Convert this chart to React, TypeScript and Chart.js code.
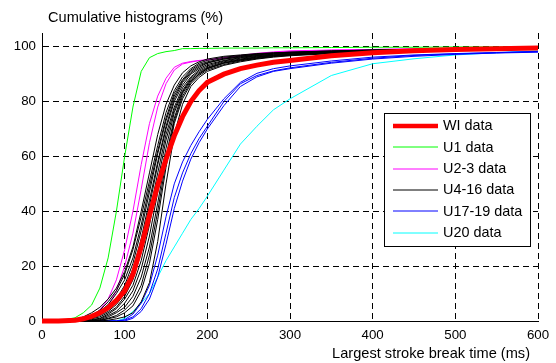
import React, { useEffect, useRef } from 'react';
import { Chart, registerables } from 'chart.js';

Chart.register(...registerables);

const X_VALUES = [0, 20, 40, 50, 60, 70, 80, 90, 100, 110, 120, 130, 140, 150, 160, 170, 180, 190, 200, 220, 240, 260, 280, 300, 350, 400, 450, 500, 550, 600];

const WI = [0, 0, 0.3, 0.8, 1.7, 3, 4.8, 7.5, 11, 17, 27, 38.5, 49.5, 59, 67.5, 74.5, 80, 84, 87, 90, 92, 93.3, 94.3, 95, 96.7, 97.8, 98.5, 99, 99.3, 99.5];

const U1 = [0, 0, 1.2, 3, 5.8, 12, 23, 40, 60, 78, 91, 96, 97.5, 98.2, 98.6, 99.3, 99.3, 99.4, 99.4, 99.5, 99.5, 99.5, 99.6, 99.6, 99.7, 99.8, 99.8, 99.9, 99.9, 100];

const U2_3_A = [0, 0, 0, 0.3, 1.5, 4, 8, 15, 26, 40, 57, 72, 82, 88.5, 92.5, 94, 94.6, 95, 95.2, 96, 96.8, 97.6, 98.1, 98.5, 98.8, 99, 99.2, 99.3, 99.4, 99.5];
const U2_3_B = [0, 0, 0, 0.2, 1, 2.5, 5.5, 11, 20, 32, 48, 65, 78, 86.5, 91.5, 93.7, 94.4, 94.9, 95.2, 95.8, 96.5, 97.3, 97.9, 98.3, 98.7, 99, 99.2, 99.3, 99.4, 99.5];

const U4 = [0, 0, 0.5, 1.5, 3, 5, 8, 12, 18, 27, 40, 54, 68, 79, 86, 90.5, 93, 94.5, 95.5, 96.5, 97, 97.5, 97.8, 98, 98.5, 98.8, 99, 99.2, 99.4, 99.5];
const U5 = [0, 0, 0.3, 1, 2, 4, 7, 11, 17, 26, 38, 51, 64, 76, 84, 89, 92, 94, 95, 96.2, 96.8, 97.3, 97.7, 98, 98.4, 98.8, 99, 99.2, 99.3, 99.5];
const U6 = [0, 0, 0.2, 0.8, 1.8, 3.5, 6, 10, 15, 23, 35, 49, 62, 74, 83, 88, 91.5, 93.5, 94.5, 95.8, 96.6, 97.2, 97.6, 97.9, 98.3, 98.7, 99, 99.1, 99.3, 99.5];
const U7 = [0, 0, 0, 0.5, 1.5, 3, 5, 8, 13, 21, 33, 47, 61, 73, 82, 87.5, 91, 93, 94.2, 95.5, 96.4, 97, 97.5, 97.8, 98.3, 98.7, 98.9, 99.1, 99.3, 99.4];
const U8 = [0, 0, 0, 0.5, 1, 2.5, 4.5, 7, 12, 19, 30, 44, 58, 71, 81, 87, 90.5, 92.5, 94, 95.5, 96.2, 96.8, 97.3, 97.7, 98.2, 98.6, 98.9, 99.1, 99.3, 99.5];
const U9 = [0, 0, 0, 0.3, 1, 2, 3.5, 6, 10, 17, 28, 42, 57, 70, 80, 86, 90, 92, 93.5, 95, 96, 96.7, 97.2, 97.6, 98.2, 98.6, 98.9, 99.1, 99.2, 99.4];
const U10 = [0, 0, 0, 0.2, 0.8, 1.5, 3, 5, 9, 15, 25, 39, 54, 68, 78, 85, 89, 91.5, 93, 94.8, 95.8, 96.5, 97, 97.4, 98, 98.5, 98.8, 99, 99.2, 99.4];
const U11 = [0, 0, 0, 0.2, 0.5, 1, 2.5, 4.5, 8, 13, 22, 35, 51, 66, 77, 84, 88.5, 91, 92.5, 94.5, 95.5, 96.3, 96.9, 97.3, 98, 98.5, 98.8, 99, 99.2, 99.4];
const U12 = [0, 0, 0, 0, 0.3, 0.8, 2, 3.5, 6.5, 11, 19, 31, 47, 63, 76, 83.5, 88, 90.5, 92.2, 94.2, 95.3, 96.2, 96.8, 97.2, 97.9, 98.4, 98.7, 99, 99.2, 99.4];
const U13 = [0, 0, 0, 0, 0.2, 0.5, 1.5, 3, 5, 9, 16, 27, 43, 60, 74, 83, 87.5, 90, 92, 94, 95.2, 96, 96.7, 97.1, 97.8, 98.3, 98.7, 99, 99.2, 99.4];
const U14 = [0, 0, 0, 0, 0, 0.3, 1, 2, 4, 7, 13, 24, 40, 58, 73, 82, 87, 90, 92, 94, 95, 95.8, 96.5, 97, 97.7, 98.3, 98.7, 99, 99.2, 99.4];
const U15 = [0, 0, 0, 0, 0, 0.2, 0.8, 1.5, 3, 5.5, 11, 21, 37, 56, 72, 81, 86.5, 89.5, 91.5, 93.5, 94.8, 95.7, 96.4, 96.9, 97.6, 98.2, 98.6, 98.9, 99.1, 99.3];
const U16 = [0, 0, 0, 0, 0, 0, 0.3, 0.8, 1.5, 3, 7, 14, 29, 50, 68, 79, 85.5, 88.8, 91, 93.2, 94.5, 95.5, 96.2, 96.7, 97.5, 98.1, 98.5, 98.8, 99, 99.2];

const U17 = [0, 0, 0, 0, 0, 0, 0, 0, 0.5, 2.5, 6.5, 13, 24, 38, 50, 58, 64, 69, 73.5, 81, 87, 90.3, 92, 93, 94.8, 96.2, 97, 97.5, 97.9, 98.3];
const U18 = [0, 0, 0, 0, 0, 0, 0, 0, 0.3, 1.5, 4.5, 10, 19, 32, 45, 54, 61, 66.5, 71, 80, 86.5, 89.5, 91.2, 92.3, 94.3, 95.8, 96.8, 97.4, 97.8, 98.2];
const U19 = [0, 0, 0, 0, 0, 0, 0, 0, 0, 1, 3.5, 8, 16, 28, 41, 51, 59, 65, 70, 78.5, 85.5, 89, 91, 92, 94, 95.5, 96.5, 97.2, 97.7, 98];

const U20 = [0, 0, 0, 0, 0, 0, 0, 0, 1, 3.5, 6.5, 10, 16, 22, 27, 32, 37, 41, 45.5, 55, 64.5, 71, 77, 81, 89.5, 93.8, 95.6, 97, 97.8, 98.5];

const X_TICKS = [0, 100, 200, 300, 400, 500, 600];
const Y_TICKS = [0, 20, 40, 60, 80, 100];

const Y_TITLE = 'Cumulative histograms (%)';
const X_TITLE = 'Largest stroke break time (ms)';
const LEGEND_LABELS = ['WI data', 'U1 data', 'U2-3 data', 'U4-16 data', 'U17-19 data', 'U20 data'];

const RED = '#ff0000';
const GREEN = '#00ff00';
const MAGENTA = '#ff00ff';
const BLACK = '#000000';
const BLUE = '#0000ff';
const CYAN = '#00ffff';
const LEGEND_COLORS = [RED, GREEN, MAGENTA, BLACK, BLUE, CYAN];
const LEGEND_WIDTHS = [4.5, 1, 1, 1, 1, 1];

const FONT_FAMILY = '"Liberation Sans", Arial, Helvetica, sans-serif';
const FONT_SIZE = 13.3;
const TITLE_FONT_SIZE = 14.6;
const LEGEND_FONT_SIZE = 14.4;

const toPoints = (ys: number[]) => X_VALUES.map((x, i) => ({ x, y: ys[i] }));

const overlayPlugin = {
  id: 'overlay',
  afterDraw(chart: any) {
    const { ctx, chartArea: a } = chart;
    ctx.save();
    ctx.font = `${TITLE_FONT_SIZE}px ${FONT_FAMILY}`;
    ctx.fillStyle = '#000';
    ctx.textBaseline = 'middle';
    ctx.textAlign = 'left';
    ctx.fillText(Y_TITLE, a.left + 6, 17.5);
    ctx.textAlign = 'right';
    ctx.fillText(X_TITLE, a.right - 8, 353.5);

    const lx = a.right - 154;
    const ly = a.top + 80;
    const lw = 146;
    const lh = 133;
    ctx.fillStyle = '#fff';
    ctx.fillRect(lx, ly, lw, lh);
    ctx.strokeStyle = '#000';
    ctx.lineWidth = 1;
    ctx.strokeRect(lx + 0.5, ly + 0.5, lw, lh);
    ctx.font = `${LEGEND_FONT_SIZE}px ${FONT_FAMILY}`;
    LEGEND_LABELS.forEach((label, i) => {
      const y = ly + 13 + i * 21.3;
      ctx.strokeStyle = LEGEND_COLORS[i];
      ctx.lineWidth = LEGEND_WIDTHS[i];
      ctx.beginPath();
      ctx.moveTo(lx + 9, Math.round(y));
      ctx.lineTo(lx + 54, Math.round(y));
      ctx.stroke();
      ctx.fillStyle = '#000';
      ctx.textAlign = 'left';
      ctx.fillText(label, lx + 59, y + 0.5);
    });
    ctx.restore();
  },
};

export default function App() {
  const ref = useRef<HTMLCanvasElement | null>(null);

  useEffect(() => {
    if (!ref.current) return;
    Chart.defaults.font.family = FONT_FAMILY;
    Chart.defaults.font.size = FONT_SIZE;
    Chart.defaults.color = '#000';

    const thin = (data: number[], color: string) => ({
      data: toPoints(data),
      borderColor: color,
      borderWidth: 1,
      pointRadius: 0,
      fill: false,
      tension: 0,
    });

    const datasets: any[] = [
      { ...thin(WI, RED), borderWidth: 5, clip: false },
      ...[U4, U5, U6, U7, U8, U9, U10, U11, U12, U13, U14, U15, U16].map((d) => thin(d, BLACK)),
      thin(U2_3_A, MAGENTA),
      thin(U2_3_B, MAGENTA),
      thin(U17, BLUE),
      thin(U18, BLUE),
      thin(U19, BLUE),
      thin(U1, GREEN),
      thin(U20, CYAN),
    ];

    const chart = new Chart(ref.current, {
      type: 'line',
      data: { datasets },
      options: {
        animation: false,
        responsive: false,
        layout: { padding: { top: 33, right: 18, left: 0, bottom: 0 } },
        plugins: { legend: { display: false }, tooltip: { enabled: false } },
        scales: {
          x: {
            type: 'linear',
            min: 0,
            max: 600,
            afterBuildTicks: (s: any) => {
              s.ticks = X_TICKS.map((v) => ({ value: v }));
            },
            afterFit: (s: any) => {
              s.height = 42;
            },
            ticks: { padding: 6, color: '#000', maxRotation: 0 },
            grid: { color: '#000', drawTicks: false, lineWidth: 1 },
            border: { display: true, color: '#000', width: 1, dash: [6, 4] },
          },
          y: {
            type: 'linear',
            min: 0,
            max: 105,
            afterBuildTicks: (s: any) => {
              s.ticks = Y_TICKS.map((v) => ({ value: v }));
            },
            afterFit: (s: any) => {
              s.width = 42;
            },
            ticks: { padding: 6, color: '#000' },
            grid: { color: '#000', drawTicks: false, lineWidth: 1 },
            border: { display: true, color: '#000', width: 1, dash: [6, 4] },
          },
        },
      },
      plugins: [overlayPlugin],
    });
    return () => chart.destroy();
  }, []);

  return (
    <div style={{ position: 'absolute', left: 0, top: 0, width: 556, height: 363, background: '#fff' }}>
      <canvas ref={ref} width={556} height={363} style={{ display: 'block' }} />
    </div>
  );
}
